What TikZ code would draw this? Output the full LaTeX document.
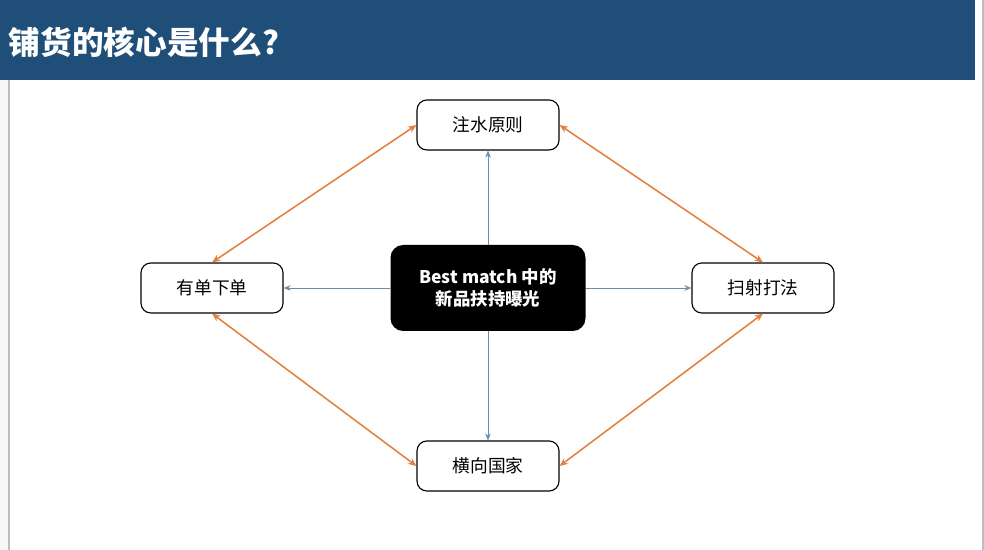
\documentclass[tikz,border=0pt]{standalone}
\usepackage{fontspec}
\setmainfont{Noto Sans CJK SC}
\usepackage{tikz}
\usetikzlibrary{arrows.meta}

\definecolor{headblue}{RGB}{31,78,121}
\definecolor{linkblue}{RGB}{110,140,176}
\definecolor{linkorange}{RGB}{226,128,62}
\definecolor{framegray}{RGB}{190,190,194}

\begin{document}
\begin{tikzpicture}[x=0.025cm,y=0.025cm,
    item/.style={draw=black,rounded corners=7pt,minimum width=142*0.025cm,minimum height=50*0.025cm,
      font=\fontsize{12.6}{15}\selectfont,line width=0.8pt},
    core/.style={fill=black,rounded corners=9pt,minimum width=195*0.025cm,minimum height=86*0.025cm,
      text=white,align=center,font=\bfseries\fontsize{12.4}{15.6}\selectfont},
    spoke/.style={draw=linkblue,line width=0.6pt,-{Stealth[length=5pt,width=4pt]}},
    rim/.style={draw=linkorange,line width=1.1pt,{Stealth[length=6pt,width=5pt]}-{Stealth[length=6pt,width=5pt]}}]
  \useasboundingbox (0,0) rectangle (984,550);

  % page
  \fill[white] (0,0) rectangle (984,550);
  \fill[black!3] (0,0) rectangle (9,470);
  \draw[framegray,line width=0.8pt] (9,0) -- (9,470);
  \draw[framegray,line width=0.8pt] (983,0) -- (983,550);

  % header
  \fill[headblue] (0,470) rectangle (975,550);
  \node[anchor=west,text=white,font=\bfseries\fontsize{22.5}{25}\selectfont] (title) at (4,508) {铺货的核心是什么?};

  % nodes
  \node[core] (center) at (488,262) {Best match 中的\\新品扶持曝光};
  \node[item] (top) at (488,425) {注水原则};
  \node[item] (left) at (212,262) {有单下单};
  \node[item] (right) at (763,262) {扫射打法};
  \node[item] (bottom) at (488,84) {横向国家};

  % spokes
  \draw[spoke] (center) -- (top);
  \draw[spoke] (center) -- (left);
  \draw[spoke] (center) -- (right);
  \draw[spoke] (center) -- (bottom);

  % rim
  \draw[rim] (top.west) -- (left.north);
  \draw[rim] (top.east) -- (right.north);
  \draw[rim] (left.south) -- (bottom.west);
  \draw[rim] (right.south) -- (bottom.east);
\end{tikzpicture}
\end{document}
